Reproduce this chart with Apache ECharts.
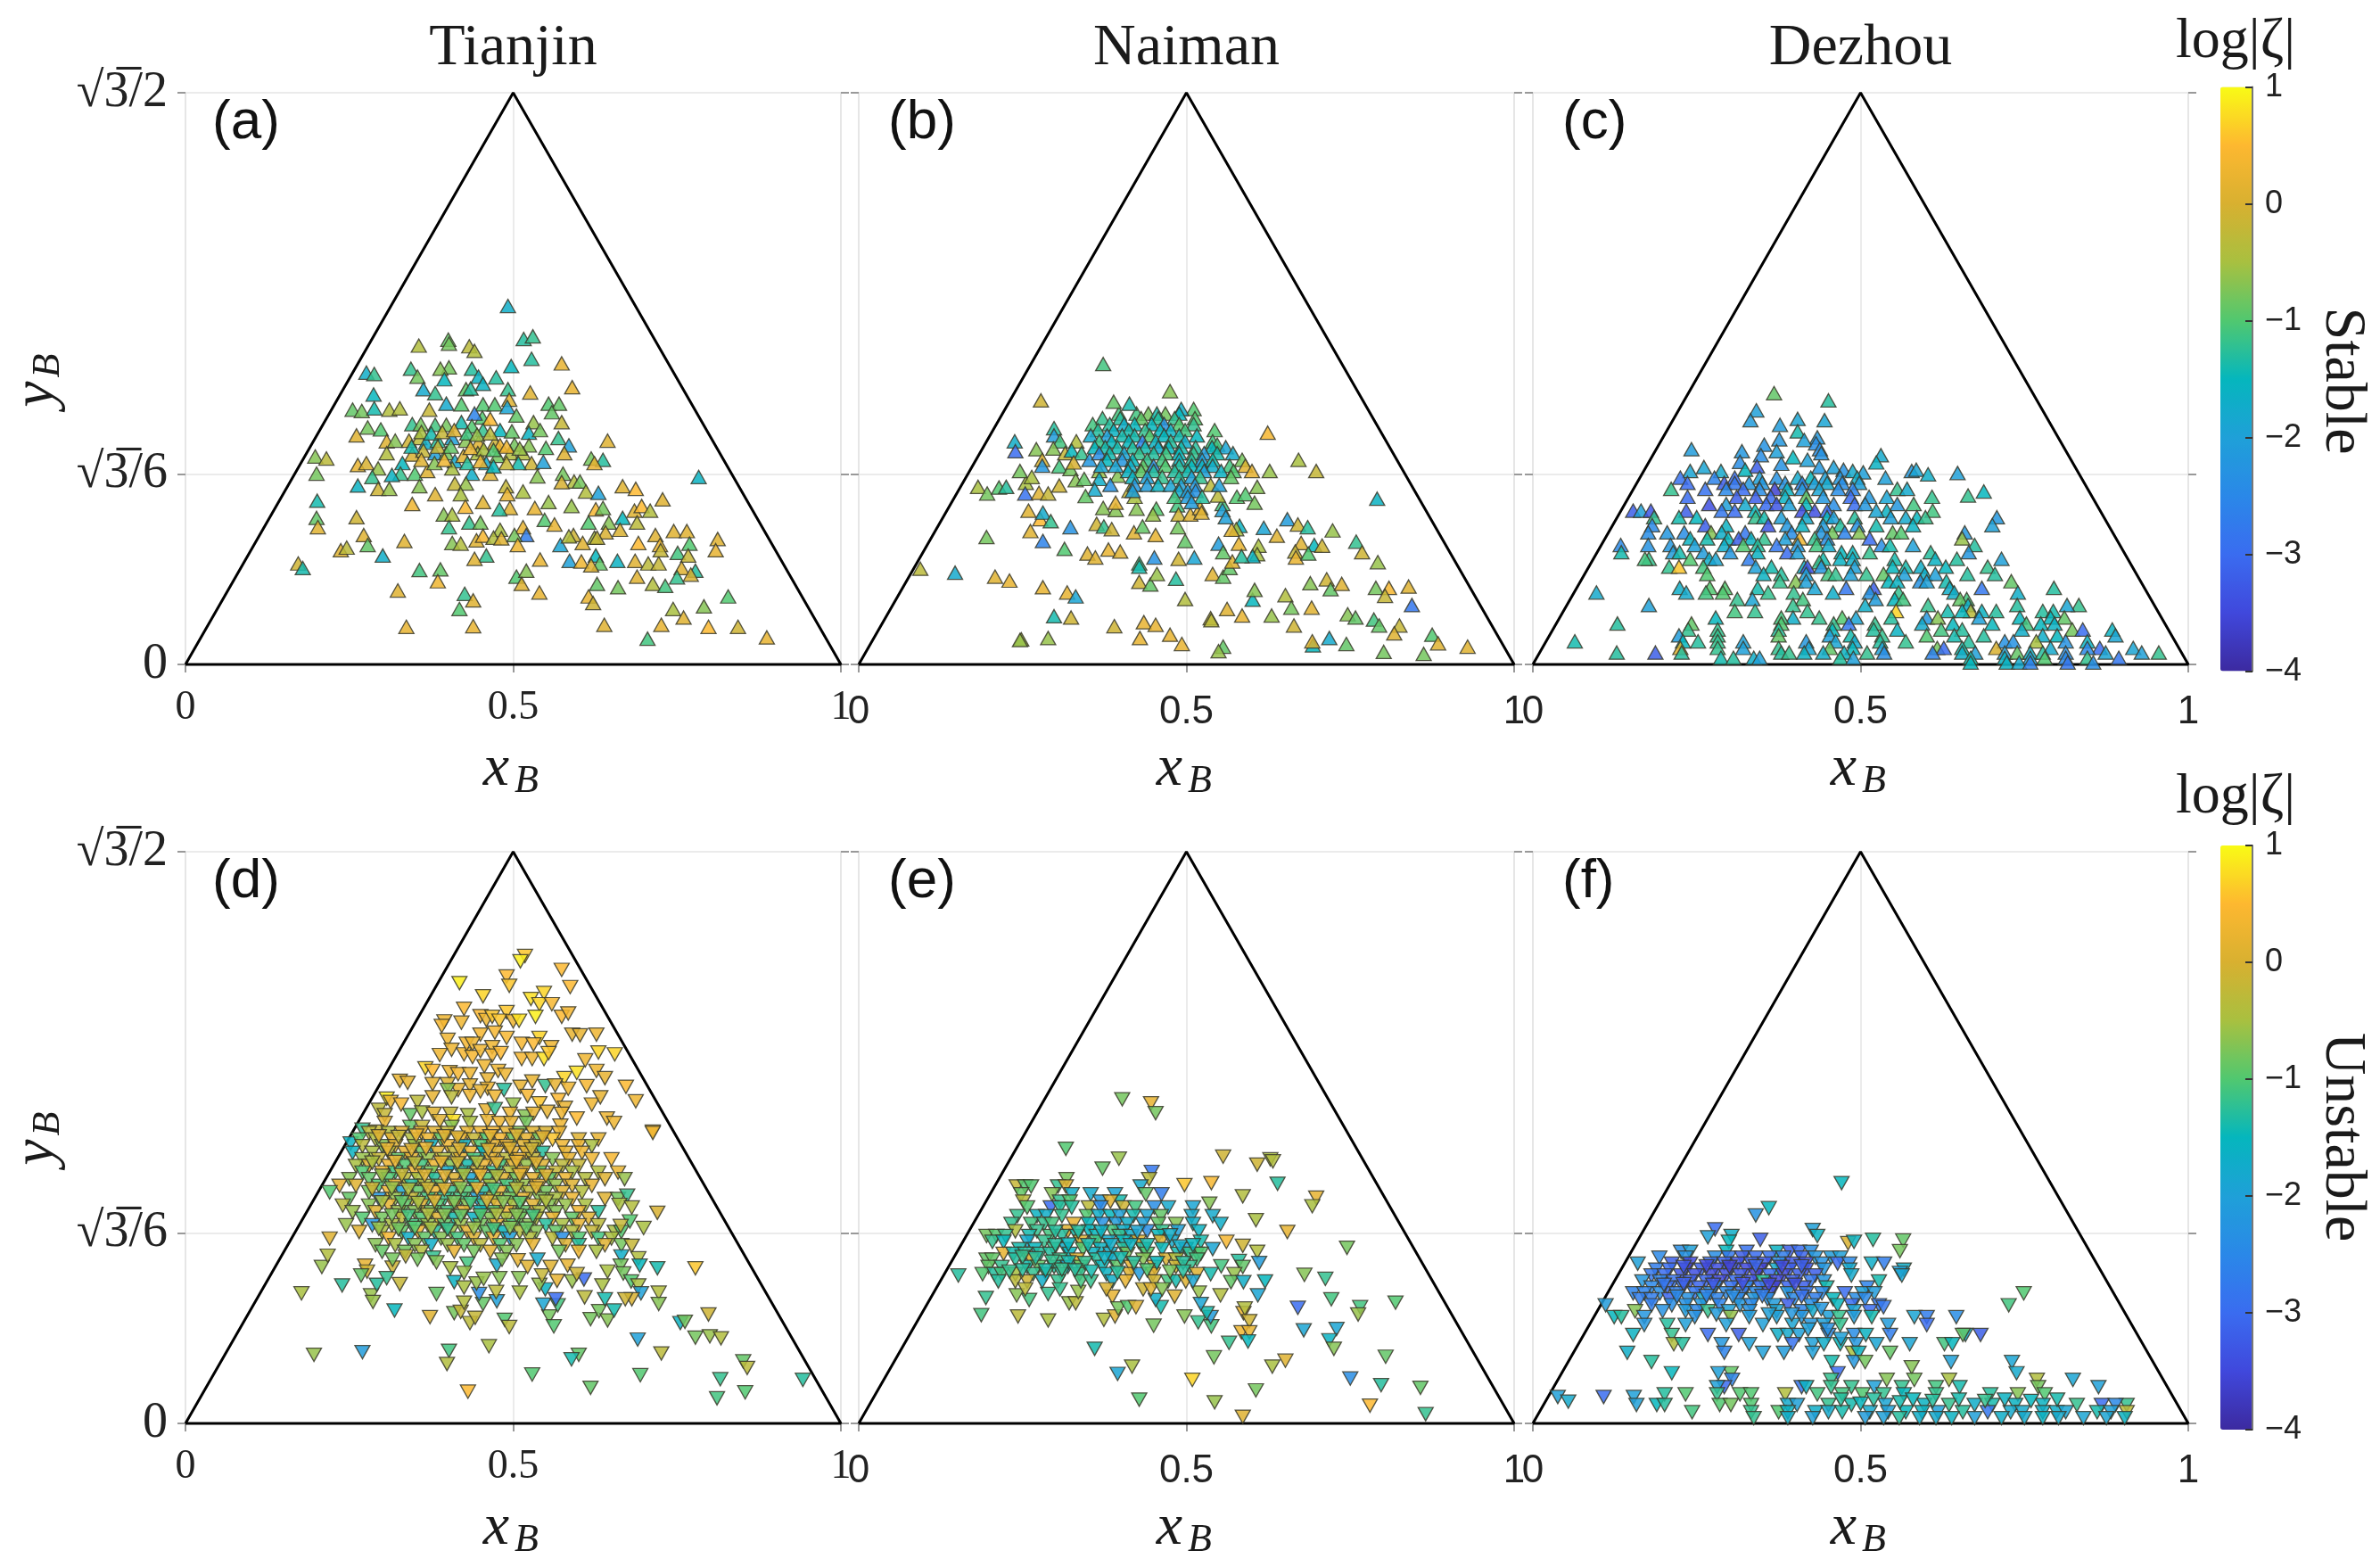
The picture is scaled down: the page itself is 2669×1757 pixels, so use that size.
<!DOCTYPE html>
<html><head><meta charset="utf-8"><style>html,body{margin:0;background:#fff}#c{width:2669px;height:1757px;filter:blur(0.5px)}</style>
<script src="https://cdn.jsdelivr.net/npm/echarts@6/dist/echarts.min.js"></script></head><body><div id="c"></div><script>
const titles=['Tianjin','Naiman','Dezhou'];
const panelLetters=['(a)','(b)','(c)','(d)','(e)','(f)'];
const xTicks=['0','0.5','1'];
const yTickLabels=['0','√3̅/6','√3̅/2'];
const cbarTicks=[-4,-3,-2,-1,0,1];
const parula=['#3c2aa0','#4048dc','#3a6cf0','#2a88e8','#1fa0d8','#05b6bd','#50c870','#a8c040','#d8b030','#fdb830','#f9fb15'];
// flat triples: xB, yB, log|zeta|
const ptsA=[.492,.543,-1.7,.516,.493,-1.3,.53,.497,-1.2,.528,.463,-1.3,.356,.483,-.4,.401,.492,-.9,.402,.486,-.8,.433,.482,-.3,.441,.475,-.4,.574,.456,.2,.59,.42,.2,.526,.412,.1,.497,.452,-1.5,.474,.435,-1.3,.492,.417,-1.2,.494,.401,.1,.437,.448,-1.3,.447,.436,-1.6,.402,.45,-.8,.389,.448,-.7,.344,.448,-1.2,.354,.436,-.8,.276,.442,-1.7,.288,.44,-1.2,.287,.409,-1.5,.395,.432,-1.5,.363,.417,-1.8,.381,.411,-1.2,.428,.417,-.9,.435,.418,-1.3,.454,.425,-1.6,.255,.386,-.9,.269,.384,-.8,.288,.388,-1.4,.311,.386,-.4,.327,.388,-.4,.372,.386,-.2,.398,.395,-1.8,.421,.394,-1,.454,.394,-1,.472,.394,-1,.491,.39,-1.9,.554,.395,-1,.57,.395,-.9,.559,.382,-.9,.505,.377,-.9,.531,.367,-.6,.574,.367,-.2,.453,.374,-1,.465,.372,.5,.441,.38,-2.6,.261,.347,.1,.278,.359,-.8,.298,.356,-1,.346,.364,-1.2,.359,.364,-.8,.381,.363,-1.1,.398,.363,-.8,.421,.367,-1.4,.437,.361,-1,.454,.355,-1.2,.48,.355,-1.5,.498,.353,-.9,.524,.351,-1.6,.541,.355,-.8,.307,.338,.1,.32,.339,-.7,.341,.339,-.1,.357,.343,-.3,.367,.336,-1.7,.385,.339,-1.3,.407,.343,-2,.428,.339,-.7,.447,.336,.1,.472,.336,-.1,.48,.332,.3,.502,.333,-.8,.524,.332,-.7,.569,.343,-1.2,.585,.332,-2,.644,.339,.1,.198,.315,-.7,.215,.312,-.3,.307,.32,-.4,.346,.318,0,.363,.324,-.2,.381,.32,-2,.398,.32,-.8,.411,.308,-1.8,.424,.316,.1,.446,.32,-.5,.459,.305,-1.8,.476,.316,-.8,.496,.32,-.4,.515,.32,-.4,.528,.305,-.1,.55,.328,-1,.578,.32,.1,.619,.312,-.8,.637,.31,-1.3,.624,.305,.2,.546,.307,-2,.508,.305,-1.4,.263,.302,.2,.276,.305,0,.2,.289,-.8,.294,.297,-.6,.331,.305,-1.5,.328,.289,-1.2,.315,.287,-1.6,.35,.289,-1,.369,.293,.1,.407,.297,-.5,.437,.289,-1.7,.465,.289,.1,.576,.289,-.8,.593,.277,-.4,.602,.277,-.8,.783,.284,-1.6,.263,.271,-1.6,.285,.284,-1.2,.294,.266,-.1,.311,.266,-.6,.357,.27,-.7,.411,.274,-.2,.428,.274,-.6,.489,.27,-.2,.515,.262,-.5,.537,.285,-.7,.574,.276,0,.611,.262,-.4,.63,.26,-2,.667,.27,.1,.687,.266,.5,.728,.25,.1,.201,.248,-1.4,.381,.258,.1,.42,.258,-.5,.454,.246,.1,.491,.258,.2,.554,.246,-.6,.346,.243,.3,.427,.239,.4,.495,.237,.1,.533,.237,.2,.589,.24,-.6,.626,.235,.4,.637,.237,-.8,.685,.233,.1,.696,.24,.5,.709,.233,-.4,.2,.222,-.9,.261,.223,-.1,.394,.227,-.7,.407,.227,-.5,.433,.215,-1.2,.45,.215,-.8,.479,.235,-1.3,.548,.219,-1,.563,.212,.2,.667,.222,-1.5,.615,.215,-1,.646,.215,-.7,.689,.215,-.3,.202,.208,.1,.402,.208,-1.2,.515,.208,.2,.52,.196,-2.7,.48,.204,-.5,.641,.2,0,.663,.204,0,.624,.192,-.5,.592,.196,-.1,.272,.196,.1,.444,.188,.1,.454,.195,.4,.47,.192,-.4,.482,.191,.1,.502,.196,-.8,.572,.181,-1.9,.585,.194,-.4,.606,.184,.1,.628,.192,-.2,.745,.202,.1,.765,.202,.1,.812,.19,.1,.717,.196,.1,.334,.187,.1,.278,.181,-.9,.407,.184,-.7,.42,.183,-.4,.507,.181,.3,.691,.184,.5,.724,.181,.3,.769,.183,-1,.809,.173,.2,.237,.173,.1,.246,.177,-.3,.301,.165,-1.7,.459,.165,-1.2,.441,.16,.1,.541,.159,.2,.586,.157,-2,.604,.156,.3,.626,.165,-1.5,.632,.153,-.9,.619,.15,.1,.659,.157,-1.6,.686,.157,.1,.706,.153,-.3,.722,.153,-.2,.725,.173,-.2,.751,.169,-1.1,.767,.165,-.2,.172,.153,-.1,.179,.146,-1.4,.357,.143,-1.1,.389,.144,-.9,.505,.133,-1,.52,.142,-.7,.757,.146,.1,.778,.142,-1.3,.75,.132,-1.2,.771,.136,0,.689,.133,.1,.713,.122,-.4,.732,.119,-1.1,.628,.122,-.9,.66,.117,-.8,.385,.126,.3,.513,.122,.1,.324,.112,.1,.54,.109,.2,.426,.107,-1.2,.439,.097,.1,.615,.103,.2,.622,.093,-.1,.828,.103,-1,.791,.088,-.7,.744,.084,-.5,.418,.084,-1,.76,.071,.1,.337,.057,.2,.439,.058,.2,.639,.06,.1,.726,.06,.2,.798,.057,.5,.843,.057,-.1,.887,.041,.2,.705,.039,-1.1,.36,.352,-.5,.375,.35,-1.4,.392,.352,-.2,.41,.355,.1,.43,.35,-1.1,.445,.348,-.6,.465,.35,-.3,.385,.33,-.2,.405,.33,-.9,.435,.328,.2,.455,.326,-.5,.47,.325,-1,.49,.33,.3,.51,.327,-.6,.345,.33,-1.4,.36,.31,.1,.38,.305,-.7,.395,.31,.3,.43,.305,-1.3,.45,.308,.2,.47,.3,-1.5,.49,.305,-.2];
const ptsB=[.373,.455,-1.1,.475,.414,-.7,.278,.4,-.1,.624,.351,.4,.671,.31,-.5,.698,.293,-.2,.791,.251,-1.6,.094,.145,-.3,.147,.139,-1.8,.208,.133,.1,.23,.127,.2,.281,.117,.2,.318,.109,.2,.331,.103,-1.9,.298,.073,-1.4,.324,.071,-.1,.248,.038,-.5,.246,.037,-.6,.289,.04,-.6,.39,.058,-.1,.435,.064,.2,.453,.06,.2,.429,.04,.2,.475,.045,.2,.493,.031,.2,.428,.125,-.1,.445,.121,-.9,.455,.137,-.6,.484,.13,-1.3,.428,.153,-1.2,.428,.148,-1.4,.451,.162,-2.3,.488,.16,-.1,.512,.162,-1.9,.54,.137,.1,.556,.133,-.9,.566,.146,-.9,.57,.156,.1,.498,.099,-.4,.537,.07,-.2,.538,.067,-.3,.562,.084,.1,.585,.074,.2,.63,.074,-.6,.601,.098,-1.5,.604,.113,-.7,.651,.105,-.4,.66,.086,-.8,.691,.086,.1,.689,.123,-.7,.714,.129,-.1,.72,.114,-.9,.737,.122,.1,.789,.116,-.8,.809,.116,.4,.839,.118,.1,.803,.104,-.2,.844,.09,-2.8,.746,.076,-.7,.758,.071,-.9,.786,.068,-1.1,.794,.059,-.9,.825,.059,-.2,.817,.047,.1,.875,.045,-1,.884,.032,.1,.929,.027,.1,.862,.016,-.8,.801,.019,-.8,.744,.031,-.9,.718,.04,-1.8,.693,.029,-1.5,.692,.035,0,.664,.059,-.1,.556,.027,-.9,.549,.02,-.6,.654,.22,-2.1,.67,.212,-.1,.685,.208,-1.3,.723,.203,-.6,.618,.207,-1.9,.638,.195,.1,.581,.21,-1.6,.576,.205,-.5,.569,.204,.1,.549,.183,-2.1,.58,.183,.2,.61,.18,-.5,.608,.167,-.5,.601,.164,-1.6,.556,.17,-.9,.584,.164,-1.3,.675,.184,.1,.695,.181,-1.5,.707,.18,-.1,.666,.171,-.2,.667,.162,.2,.686,.168,-1,.759,.186,-1.2,.768,.17,-.1,.792,.155,-.6,.195,.193,-.8,.262,.202,.1,.281,.187,-2.6,.314,.175,-1,.323,.208,-2.3,.277,.22,.5,.281,.23,-1.8,.293,.217,-1.2,.259,.233,.1,.363,.213,-.1,.374,.209,-1.2,.386,.205,-.1,.42,.2,.1,.433,.209,-.9,.453,.196,.2,.487,.208,-.8,.498,.187,-.9,.349,.168,.1,.361,.162,.1,.381,.174,.2,.399,.171,.1,.373,.237,-.7,.392,.234,-.7,.392,.245,.2,.424,.236,-.7,.454,.236,-1,.449,.227,-.6,.486,.241,-1.1,.488,.227,-.1,.506,.227,.1,.521,.237,.2,.523,.23,.1,.555,.243,-1.1,.555,.234,-2,.56,.223,-2,.548,.256,-.3,.577,.254,-1,.59,.258,-1,.604,.245,-.8,.608,.269,-.7,.182,.269,-.5,.196,.259,-.8,.214,.268,-1,.225,.269,-1.3,.255,.275,-.5,.254,.259,-2.9,.275,.26,.1,.289,.259,-.2,.306,.271,-.1,.246,.293,-.8,.264,.284,-.5,.238,.338,-1.7,.239,.323,-3,.271,.326,-.7,.28,.31,0,.28,.301,-2.2,.298,.358,-1.3,.298,.347,-2.1,.307,.338,-1.1,.297,.327,-.7,.332,.338,-.4,.315,.32,-.2,.325,.324,-1.5,.34,.32,-1.2,.306,.3,-1.1,.323,.296,-.8,.328,.306,0,.352,.31,-2.2,.367,.293,-.6,.331,.279,-.7,.344,.281,-.9,.367,.281,-1.7,.395,.286,-.7,.384,.272,-2.3,.36,.265,-1.8,.346,.255,-.9,.413,.263,-.2,.421,.254,-.5,
.511,.387,-1,.492,.387,-1.7,.397,.38,-1.1,.424,.38,-1.1,.442,.38,-.8,.468,.38,-.8,.489,.38,-1.5,.455,.38,-1.4,.413,.395,-1.4,.389,.398,-.9,.372,.373,-1.2,.399,.373,-1.3,.431,.373,-.9,.457,.373,-1.3,.482,.373,-1.2,.513,.373,-1,.357,.364,-1.1,.383,.364,-1.3,.405,.364,-1.7,.421,.364,-1.5,.447,.364,-1.5,.466,.364,-2.3,.489,.364,-1,.511,.364,-1.2,.365,.355,-1.3,.389,.355,-1.6,.412,.355,-1.4,.437,.355,-1.2,.46,.355,-1.5,.476,.355,-1.6,.498,.355,-1.1,.543,.355,-1,.354,.347,-1.8,.379,.347,-2,.402,.347,-1.4,.421,.347,-1.4,.444,.347,-1,.466,.347,-1.5,.489,.347,-1.4,.516,.347,-1.5,.367,.338,-1.2,.386,.338,-1.5,.412,.338,-1.5,.433,.338,-2.6,.453,.338,-1.6,.476,.338,-1.3,.498,.338,-1.7,.54,.338,-1.1,.547,.333,-1.1,.36,.329,-1.5,.376,.329,-1.4,.395,.329,-1.4,.418,.329,-1.3,.437,.329,-1.4,.457,.329,-1.7,.473,.329,-1.5,.492,.329,-1.4,.514,.329,-1.3,.539,.329,-1.5,.56,.329,-1.9,.367,.32,-2.4,.383,.32,-1.4,.405,.32,-1.9,.428,.32,-1.2,.45,.32,-1.3,.469,.32,-1.1,.489,.32,-1.5,.511,.32,-1.2,.527,.32,-2.1,.547,.32,-1.4,.571,.32,-1.8,.379,.31,-1.5,.402,.31,-2.2,.418,.31,-1.5,.44,.31,-1.2,.463,.31,-1.1,.489,.31,-1.6,.508,.31,-1.3,.524,.31,-2,.54,.31,-1.4,.585,.31,-.8,.37,.301,-1.9,.392,.301,-1.9,.415,.301,-1.7,.434,.301,-.9,.45,.301,-2.4,.468,.301,-1,.489,.301,-1.3,.508,.301,-1.5,.524,.301,-1.6,.54,.301,-1.7,.566,.301,-1.1,.59,.301,.1,.411,.293,-1.6,.431,.293,-.9,.45,.293,-1.3,.482,.293,-1.3,.502,.293,-1.4,.527,.293,-2,.553,.293,-1.6,.572,.293,-1,.6,.293,.2,.627,.293,-.6,.418,.284,-1.6,.44,.284,-2,.463,.284,-1.2,.489,.284,-1.3,.508,.284,-2,.521,.284,-1.2,.568,.284,-.9,.421,.272,-2.2,.44,.272,-2.1,.457,.272,-1.6,.476,.272,-1.9,.492,.272,-2,.513,.272,-2.2,.537,.272,-.3,.55,.272,-2,.489,.263,-1.8,.502,.263,-2.1,.418,.263,-2,.514,.263,-2.3,.482,.254,-1.1,.502,.254,-2.1,.524,.254,-1.3,.508,.246,-2.1];
const ptsC=[.368,.411,-.9,.451,.4,-1.3,.341,.385,-2,.332,.37,-2.1,.377,.363,-2.1,.404,.372,-1.9,.445,.37,-1.9,.404,.353,-1.4,.434,.344,-2.2,.414,.34,-2,.376,.341,-2.2,.353,.333,-2.3,.432,.335,-2.4,.438,.326,-2.4,.44,.32,-2.3,.242,.326,-2.1,.319,.323,-2.2,.372,.323,-2,.348,.317,-2.4,.397,.314,-1.5,.419,.31,-2,.531,.317,-1.8,.524,.306,-1.6,.316,.307,-2.4,.379,.304,-2.3,.342,.3,-3.2,.261,.299,-1.9,.24,.293,-1.9,.287,.293,-1.8,.324,.295,-1.5,.437,.299,-2.2,.459,.299,-2,.474,.295,-2.3,.578,.293,-2.2,.585,.295,-1.9,.603,.288,-1.7,.648,.29,-2,.504,.291,-2,.488,.293,-1.8,
.225,.283,-2.9,.277,.283,-2.6,.308,.283,-3,.346,.283,-2,.372,.283,-2.3,.404,.283,-1.8,.424,.283,-1.5,.446,.283,-2,.469,.283,-2.2,.495,.283,-1.7,.538,.283,-2,.236,.275,-3,.292,.275,-3.2,.308,.275,-2.8,.33,.275,-2.2,.35,.275,-2.2,.385,.275,-2.3,.411,.275,-2.6,.43,.275,-2,.449,.275,-1.8,.472,.275,-2.4,.498,.275,-2,.211,.266,-1.2,.263,.266,-2.9,.295,.266,-2.5,.321,.266,-3,.346,.266,-2.4,.369,.266,-3.6,.388,.266,-1.6,.411,.266,-2.2,.437,.266,-1.9,.466,.266,-2.4,.488,.266,-2.6,.556,.266,-1.2,.571,.266,-1.8,.664,.256,-1.2,.688,.262,-1.5,.236,.254,-3,.311,.254,-3.2,.34,.254,-3.2,.363,.254,-3,.385,.254,-1.6,.417,.254,-.9,.443,.254,-2.2,.485,.254,-3,.513,.254,-2.2,.54,.254,-1.9,.609,.254,-1.2,.269,.243,-3.4,.295,.243,-2,.324,.243,-1.8,.356,.243,-3,.372,.243,-3.3,.391,.243,-2,.417,.243,-1.5,.459,.243,-2.4,.491,.243,-3,.507,.243,-2.2,.556,.243,-2.2,.581,.243,-1.1,.153,.233,-3.2,.165,.233,-2,.18,.233,-3.3,.234,.233,-3.2,.288,.233,-2.8,.308,.233,-3,.339,.233,-1.5,.411,.233,-3.4,.43,.233,-3.4,.449,.233,-3,.54,.233,-1.6,.524,.233,-1.9,.61,.233,-1.1,.185,.223,-1.2,.223,.223,-1.4,.25,.223,-1.5,.34,.223,-1.2,.353,.223,-1.4,.379,.223,-2,.417,.223,-1.8,.449,.223,-1.5,.459,.223,-2,.491,.223,-1.3,.546,.223,-2,.569,.223,-1.8,.586,.223,-1.5,.599,.223,-1.2,.708,.223,-2.2,.182,.211,-2.5,.263,.211,-3.2,.295,.211,-1.6,.359,.211,-3.3,.388,.211,-2.2,.411,.211,-1.6,.443,.211,-2.1,.469,.211,-1.3,.495,.211,-2.3,.524,.211,-1.4,.58,.211,-1.6,.701,.211,-2,.176,.2,-2.4,.205,.2,-2.2,.231,.2,-2.4,.272,.2,-.7,.288,.2,-1.7,.324,.2,-2.8,.395,.2,-2.4,.44,.2,-2.2,.457,.2,-.8,.476,.2,-2.6,.498,.2,-.7,.549,.2,-.9,.562,.2,-1,.659,.2,-2.2,.24,.191,-1.6,.266,.191,-1.4,.298,.191,-1.5,.314,.191,-3.2,.333,.191,-1.6,.353,.191,-1.2,.385,.191,-2,.407,.191,.3,.43,.191,-1.2,.449,.191,-2.4,.514,.191,-3,.655,.191,-.6,.134,.181,-2.5,.176,.181,-2.3,.21,.181,-2.2,.247,.181,-2,.292,.181,-1.7,.321,.181,-1,.343,.181,-1.3,.372,.181,-2.8,.404,.181,-2.2,.433,.181,-1.1,.451,.181,-1.8,.532,.181,-2.4,.545,.181,-1.4,.58,.181,-2,.674,.181,-1.3,.135,.17,-1.4,.214,.17,-2.1,.224,.17,-1.4,.26,.17,-2.1,.301,.17,-2.2,.343,.17,-1.6,.388,.17,-3,.404,.17,-2,.471,.17,-1.5,.488,.17,-1.5,.514,.17,-1.2,.607,.17,-1.3,.665,.17,-2.2,.177,.16,-1.2,.171,.16,-1.1,.24,.16,-1,.269,.16,-1.7,.279,.16,-1.9,.33,.16,-2.7,.443,.16,-1.4,.437,.155,-1.2,.469,.16,-1.6,.488,.16,-1.7,.552,.16,-1.4,.614,.16,-1.6,.647,.16,-1.3,.715,.16,-2,.208,.148,-1.2,.223,.148,.6,.26,.148,-1.1,.34,.148,-2,.364,.148,-1.4,.414,.148,-1.7,.419,.148,-3.3,.44,.148,-2.2,.491,.148,-2,.549,.148,-1.5,.569,.148,-1.4,.592,.148,-1.7,.63,.148,-1.5,.694,.148,-1.2,.266,.137,-1,.352,.137,-1.6,.379,.137,-1.3,.417,.137,-2,.451,.137,-1.1,.462,.137,-1.2,.485,.137,-2,.509,.137,-1.2,.535,.137,-.9,.567,.137,-2,.598,.137,-1.7,.614,.137,-2,.663,.137,-1.3,.705,.137,-1.3,.377,.126,-1.2,.401,.126,-.7,.417,.126,-2,.543,.126,-1.5,.556,.126,-1.6,.591,.126,-2.3,.601,.126,-2,.631,.126,-1.4,.73,.126,-.9,.224,.116,-1.7,.27,.116,-1,.293,.116,-1,.343,.116,-1.4,.43,.116,-1.9,.478,.116,-2.8,.52,.116,-3.2,.685,.116,-2.8,.795,.116,-1.3,.636,.116,-1.7,.097,.109,-1.8,.234,.109,-1.8,.264,.109,-1.1,.29,.109,-1,.359,.109,-1.2,.398,.109,-1.2,.458,.109,-1.7,.514,.109,-2.3,.558,.109,-1.2,.643,.109,-1.7,.74,.109,-1.7,.312,.099,-1.2,.335,.099,-1.9,.412,.099,-1.1,.523,.099,-2.1,.552,.099,-1.5,.565,.099,-1.1,.662,.099,-1.1,.652,.099,-.9,.177,.09,-2,.397,.09,-1.2,.507,.09,-1.7,.603,.09,-1.2,.664,.09,-1.7,.739,.09,-1.3,.833,.09,-1.2,.815,.09,-1.9,.308,.081,-1.1,.339,.081,-1.2,.419,.081,-1.2,.554,.081,.7,.633,.081,-1.4,.668,.081,-.3,.685,.081,-1.6,.778,.081,-1.3,.794,.081,-1.4,.707,.081,-1.3,.655,.081,-1.5,.279,.071,-1.5,.397,.071,-1.7,.437,.071,-1.2,.472,.071,-1,.493,.071,-1.9,.547,.071,-1.3,.601,.071,-2.2,.618,.071,-.7,.681,.071,-2,.743,.071,-1.5,.811,.071,-.9,.79,.071,-1.5,.379,.071,-1.1,.129,.062,-1.3,.242,.062,-.9,.379,.062,-1,.459,.062,-1.2,.482,.062,-2.8,.522,.062,-1.2,.594,.062,-1.8,.641,.062,-1.5,.701,.062,-1.5,.753,.062,-1.1,.775,.062,-1.5,.796,.062,-1.6,.237,.053,-1.2,.282,.053,-1.2,.375,.053,-1.3,.457,.053,-1.5,.52,.053,-1.3,.556,.053,-1.6,.623,.053,-1.1,.655,.053,-1.3,.746,.053,-1.7,.823,.053,-.8,.884,.053,-1.6,.839,.053,-3,.223,.044,-2.1,.282,.044,-1.2,.375,.044,-.9,.453,.044,-2,.485,.044,-1.4,.533,.044,-1.2,.601,.044,-1,.643,.044,-1.4,.688,.044,-1.3,.778,.044,-1.7,.8,.044,-1.5,.889,.044,-1.9,.064,.035,-1.4,.229,.035,-1.5,.252,.035,-1.3,.321,.035,-2,.282,.035,-1.2,.417,.035,-2.2,.462,.035,-1.9,.491,.035,-1.8,.53,.035,-1.3,.569,.035,-1.2,.665,.035,-1.3,.72,.035,-2.3,.733,.035,-2.3,.813,.035,-2.3,.846,.035,-1.6,.768,.035,-.5,.225,.025,.1,.282,.025,-1.2,.321,.025,-2,.375,.025,-1.2,.421,.025,-1.9,.453,.025,-.9,.488,.025,-1.5,.533,.025,-2,.617,.025,-.8,.627,.025,-3,.655,.025,-1.4,.707,.025,0,.79,.025,-1.8,.865,.025,-3,.846,.025,-2.5,.916,.025,-1.9,.128,.018,-1.3,.187,.018,-3.2,.227,.018,-1.3,.379,.018,-1.3,.391,.018,-1.2,.414,.018,-1.6,.443,.018,-1.7,.475,.018,-1.6,.51,.018,-1.2,.536,.018,-2.4,.61,.018,-2.6,.655,.018,-1.7,.675,.018,-2,.72,.018,-2,.739,.018,-.9,.759,.018,-1.7,.778,.018,-1.3,.813,.018,-2.4,.874,.018,-1.9,.929,.018,-2,.955,.018,-1.2,.287,.01,-1.4,.306,.01,-1.3,.337,.01,-1.7,.346,.01,-2,.469,.01,-1.3,.489,.01,-2,.668,.01,-1.4,.72,.01,-1.6,.759,.01,-2,.781,.01,-1,.813,.01,-2.5,.846,.01,-1.2,.894,.01,-2.8,.668,.003,-1.5,.723,.003,-1.6,.742,.003,-1.8,.759,.003,-2.6,.816,.003,-2.8,.855,.003,-2.4];
const ptsD=[.518,.708,.6,.511,.7,.9,.574,.687,.5,.49,.677,.5,.494,.663,.6,.418,.667,.9,.587,.661,.5,.454,.647,.7,.547,.652,.7,.527,.643,.8,.54,.635,.7,.559,.635,.4,.425,.628,.5,.49,.623,.6,.534,.616,.9,.574,.616,.5,.584,.621,.4,.395,.609,.3,.391,.602,.4,.421,.607,.3,.45,.617,.5,.459,.611,.3,.468,.616,.6,.479,.61,.6,.5,.609,.3,.509,.61,.8,.59,.589,.2,.602,.588,.2,.627,.589,.3,.4,.581,.3,.45,.589,.4,.472,.592,.4,.49,.584,.4,.54,.584,.7,.406,.566,.3,.388,.558,.3,.425,.559,.4,.429,.575,.4,.438,.575,.3,.438,.555,.4,.45,.564,.3,.468,.57,.3,.468,.557,.4,.481,.561,.5,.513,.575,.4,.531,.574,.5,.513,.552,.4,.529,.552,.3,.547,.552,.8,.558,.57,.3,.554,.561,.6,.61,.55,.3,.63,.562,.7,.655,.559,.7,.366,.538,.7,.377,.534,.5,.403,.532,.3,.416,.529,.4,.434,.529,.3,.456,.541,.3,.477,.534,.3,.488,.528,.3,.597,.531,.8,.578,.523,.7,.627,.534,.3,.64,.523,.2,.327,.519,.2,.339,.516,.2,.377,.514,.2,.4,.514,.1,.416,.505,.2,.4,.505,-.7,.434,.512,.2,.461,.521,.2,.461,.507,.3,.486,.505,-1.3,.511,.51,.2,.529,.518,.2,.549,.511,-1.2,.564,.512,.2,.584,.507,.3,.612,.511,.4,.672,.51,.5,.307,.492,.9,.313,.487,.2,.329,.483,.4,.354,.487,-.3,.377,.494,.2,.406,.494,-.3,.434,.496,.3,.45,.503,.2,.472,.495,.3,.522,.496,.4,.54,.485,.6,.569,.49,.5,.62,.483,.3,.633,.494,.2,.687,.488,.3,.579,.478,.2,.295,.475,-.3,.343,.467,-.9,.304,.467,-.2,.361,.471,-.5,.379,.469,.1,.404,.469,-.2,.431,.467,-.5,.459,.474,.2,.472,.476,-1.2,.5,.483,-.6,.495,.469,.3,.518,.465,-.7,.531,.469,.2,.552,.472,.2,.574,.469,.3,.597,.462,.5,.643,.462,.3,.654,.455,.3,.304,.455,.2,.343,.449,-.9,.361,.449,-.2,.388,.458,.1,.409,.458,.8,.406,.449,-.7,.434,.455,-.5,.461,.458,.2,.479,.455,.3,.497,.455,.2,.52,.455,-.8,.572,.451,.3,.713,.442,.4,.27,.445,-1.2,.291,.442,-.2,.252,.424,-1.6,
.28,.44,-.3,.31,.44,-.4,.33,.44,.1,.36,.44,.2,.38,.44,.1,.4,.44,-.2,.43,.44,.2,.45,.44,.3,.47,.44,.4,.49,.44,.2,.51,.44,-.7,.53,.44,.1,.55,.44,0,.57,.44,.3,.265,.43,-1,.29,.43,-.4,.315,.43,.2,.345,.43,-.4,.37,.43,.3,.39,.43,-.9,.42,.43,.3,.44,.43,-.2,.46,.43,-1,.48,.43,.4,.5,.43,-.8,.52,.43,.2,.54,.43,-.8,.56,.43,.6,.6,.43,.1,.63,.43,.2,.27,.42,-.3,.3,.42,-.7,.32,.42,.1,.35,.42,-.6,.375,.42,-1.6,.4,.42,.3,.425,.42,-1.6,.45,.42,-1,.47,.42,.2,.49,.42,.3,.515,.42,.1,.535,.42,-.2,.575,.42,.3,.6,.42,.3,.62,.42,-.5,.255,.41,-1.6,.285,.41,-.5,.31,.41,-.3,.335,.41,.2,.36,.41,-.8,.385,.41,.1,.41,.41,-.2,.435,.41,.3,.455,.41,-1.5,.475,.41,.1,.5,.41,.2,.52,.41,.1,.545,.41,-1.3,.58,.41,.2,.605,.41,.3,.27,.4,-.6,.295,.4,-.2,.325,.4,-.9,.345,.4,.2,.37,.4,-.6,.395,.4,-.4,.42,.4,.2,.44,.4,-1.1,.465,.4,.2,.49,.4,-.3,.51,.4,.3,.53,.4,-.2,.56,.4,-.7,.585,.4,.2,.62,.4,.3,.65,.4,.4,.26,.39,-.5,.28,.39,.1,.31,.39,.3,.335,.39,-1,.36,.39,-1.1,.38,.39,.3,.405,.39,-.7,.43,.39,-1.4,.455,.39,.3,.48,.39,-1.1,.5,.39,.1,.52,.39,-.6,.545,.39,.1,.575,.39,-.3,.6,.39,-.2,.27,.38,-1,.3,.38,.2,.32,.38,-1.1,.35,.38,.3,.375,.38,-.8,.4,.38,-1.8,.42,.38,-1.3,.445,.38,-.1,.47,.38,-1.2,.495,.38,-.4,.515,.38,.3,.54,.38,-.9,.565,.38,-.2,.59,.38,-.5,.63,.38,-.4,.66,.38,.2,.25,.37,-.7,.28,.37,-.9,.31,.37,-1,.335,.37,-.3,.355,.37,-.5,.38,.37,-1.3,.41,.37,.1,.435,.37,-1.9,.46,.37,-1,.485,.37,.1,.505,.37,-.8,.53,.37,.2,.555,.37,-.9,.58,.37,.3,.61,.37,-.4,.64,.37,.1,.67,.37,-.6,.235,.36,.2,.26,.36,.1,.295,.36,-1,.32,.36,.2,.345,.36,-1.3,.365,.36,-.4,.39,.36,-.8,.415,.36,.3,.44,.36,-1.3,.465,.36,-.5,.49,.36,-1.1,.515,.36,-.6,.54,.36,.2,.565,.36,-.6,.59,.36,.1,.62,.36,.2,.22,.35,-1,.28,.35,-.8,.31,.35,.3,.33,.35,-1.9,.355,.35,-.9,.38,.35,.3,.405,.35,-1.2,.43,.35,-1,.455,.35,-1.3,.48,.35,.2,.5,.35,-1,.525,.35,-.3,.55,.35,-.8,.575,.35,.1,.605,.35,-.4,.25,.34,-.9,.295,.34,-2.2,.32,.34,-.6,.345,.34,-.2,.37,.34,-1.1,.395,.34,-1.2,.42,.34,-1.1,.445,.34,-2,.47,.34,-.5,.495,.34,-.8,.515,.34,.2,.54,.34,-.7,.565,.34,-.5,.59,.34,.3,.64,.34,.1,.66,.34,-.8,.24,.33,-.3,.28,.33,-.7,.31,.33,.2,.335,.33,-.9,.36,.33,.1,.385,.33,-1,.41,.33,.3,.43,.33,-.7,.455,.33,-1.2,.475,.33,.1,.5,.33,-.5,.53,.33,.1,.555,.33,-.7,.58,.33,-.6,.61,.33,-.5,.255,.32,-.6,.29,.32,.1,.325,.32,-.6,.35,.32,-.7,.375,.32,-.8,.4,.32,-1.1,.425,.32,.2,.45,.32,-1.5,.47,.32,-1,.49,.32,.2,.515,.32,-.9,.54,.32,-.4,.565,.32,-.7,.6,.32,.3,.63,.32,-1.3,.27,.31,-1,.3,.31,-.8,.33,.31,-.3,.36,.31,-1,.385,.31,.1,.41,.31,-1.4,.44,.31,-1.6,.465,.31,-.7,.49,.31,-.5,.51,.31,-.8,.535,.31,-.4,.56,.31,.3,.59,.31,-.9,.615,.31,.1,.245,.3,-.6,.285,.3,-2.2,.315,.3,-.5,.345,.3,-1.1,.37,.3,-.6,.395,.3,-.9,.42,.3,-.6,.45,.3,-.8,.475,.3,.2,.5,.3,-1,.525,.3,-.7,.55,.3,-1.3,.575,.3,-.5,.6,.3,.2,.63,.3,-.3,.265,.29,.1,.3,.29,-.5,.33,.29,-.9,.355,.29,.3,.38,.29,-1.3,.405,.29,-.6,.43,.29,.2,.46,.29,-.9,.485,.29,-1.5,.51,.29,-.4,.535,.29,-.7,.565,.29,-.9,.59,.29,-.4,.62,.29,-.2,.655,.29,-.5,.665,.29,-1,.22,.28,.1,.31,.28,.4,.34,.28,-1.7,.365,.28,-.9,.39,.28,-.7,.415,.28,-1.1,.44,.28,.1,.47,.28,.2,.495,.28,-2,.525,.28,-.4,.56,.28,-.3,.575,.28,-2.4,.6,.28,-1,.63,.28,-1.1,.65,.28,-.5,.29,.27,-.7,.32,.27,-.5,.35,.27,-.7,.375,.27,-1.7,.4,.27,-.6,.425,.27,-.9,.45,.27,-.3,.48,.27,-1,.505,.27,-.7,.53,.27,.2,.58,.27,.1,.6,.27,-1.3,.64,.27,.1,.665,.27,-.8,.3,.26,-.9,.335,.26,-.8,.36,.26,-.4,.41,.26,.2,.44,.26,-.8,.465,.26,.1,.49,.26,-.7,.57,.26,-.8,.6,.26,.3,.627,.26,-.5,
.295,.435,.1,.325,.434,-.2,.352,.436,.3,.395,.435,.2,.415,.433,.1,.465,.435,.3,.505,.436,.1,.545,.433,.2,.308,.415,.2,.345,.414,.1,.367,.416,.3,.418,.415,.1,.462,.414,.2,.495,.416,.1,.528,.415,-.1,.285,.395,-.5,.32,.396,.2,.35,.394,-.3,.39,.395,.2,.415,.394,-.1,.445,.395,-.4,.475,.394,.3,.505,.396,.2,.535,.394,.1,.3,.375,-.6,.33,.376,-.2,.365,.375,.1,.395,.374,.2,.425,.376,-.5,.45,.375,.3,.475,.374,-.4,.51,.376,.2,.55,.375,.1,.285,.355,-.1,.315,.356,-.6,.34,.354,-.4,.37,.355,-.1,.395,.354,.2,.42,.356,-.7,.445,.355,.3,.47,.354,-1.1,.505,.355,-.3,.535,.356,.1,.3,.335,-.5,.33,.335,-.9,.355,.334,-.5,.38,.336,.1,.41,.335,-.8,.435,.334,-1.1,.46,.336,.1,.485,.335,-.7,.51,.334,-1,.55,.336,-.4,.315,.315,-.8,.34,.314,-1.1,.37,.316,-.4,.395,.315,-.7,.42,.314,-.9,.45,.315,-1,.475,.316,-.4,.505,.315,-.7,.53,.314,-1.1,.295,.295,-.6,.325,.294,-.8,.35,.296,-1,.375,.295,-.5,.4,.294,-1.2,.44,.295,-.6,.47,.294,-1.1,.495,.296,-.7,.52,.295,-.9,
.778,.235,.6,.72,.235,-1.4,.177,.197,-.5,.239,.209,-1.3,.327,.211,-.2,.383,.196,-.9,.283,.194,-.6,.286,.184,-.6,.319,.171,-1.5,.373,.161,.1,.41,.167,-.8,.42,.169,-.2,.434,.152,-.3,.442,.16,-.2,.487,.157,-1,.494,.146,-.3,.555,.162,-.8,.562,.147,-1,.618,.158,-.8,.631,.17,-.8,.644,.156,-.7,.654,.171,-1.4,.755,.152,-1.6,.762,.154,-.8,.798,.165,-.1,.778,.13,-.8,.8,.132,-.6,.817,.129,-.4,.69,.127,-2,.726,.106,-.3,.196,.104,-.6,.27,.108,-2.1,.402,.11,-1.1,.399,.09,-.4,.463,.117,-.5,.6,.104,-.9,.589,.097,-1.4,.529,.074,-1,.618,.054,-.9,.694,.073,-1,.431,.048,.5,.851,.094,-.9,.857,.084,-.3,.816,.067,-1.2,.854,.047,-1,.811,.038,-1.1,.942,.066,-1.3,.713,.44,.3,.72,.319,0,.674,.345,-1.2,.662,.331,-.5,.681,.327,-.4,.699,.296,-.5,.678,.306,-1,.664,.299,-.2,.681,.269,-.2,.665,.253,-1.7,.691,.25,-.4,.693,.239,-1.5,.664,.239,-.8,.668,.227,-.8,.68,.215,-1,.691,.209,-.5,.722,.198,-.4,.722,.181,-.7,.695,.197,-2,.681,.188,0,.671,.188,-.1,.64,.188,-1.4,.609,.191,-.3,.636,.209,-.5,.644,.23,-.5,.608,.218,-3,.425,.183,-.4,.454,.181,-.9,.475,.185,-2,.448,.196,-2.4,.474,.199,-.3,.51,.198,-.5,.546,.18,-1.9,.568,.179,-1.1,.565,.188,-3,.549,.203,-1.6,.567,.216,.2,.59,.215,-.6,.41,.214,-1.6,.425,.206,-.5,.444,.212,-.6,.455,.219,-.6,.479,.22,-.7,.509,.22,-.7,.54,.21,-.6,.544,.224,-.2,.557,.237,.1,.583,.239,.2,.597,.226,-.1,.507,.247,.2,.522,.237,.1,.537,.248,-1.8,.475,.239,-1.8,.483,.248,-.7,.43,.242,-1.1,.404,.235,-.5,.425,.228,-.6,.378,.251,-1.2,.383,.244,-.7,.354,.248,-.8,.336,.253,-.2,.316,.236,-.1,.274,.239,.2,.277,.23,-.1,.268,.224,-.9,.292,.21,-1.3,.307,.22,-1.2,.208,.237,-.6,.217,.254,-.4,.316,.248,-.8];
const ptsE=[.402,.491,-.8,.446,.485,.2,.453,.47,-.8,.316,.416,-1,.397,.401,-.6,.372,.386,-.9,.556,.404,-.1,.608,.392,-.1,.628,.4,-.5,.632,.397,-.4,.447,.381,-2.8,.443,.37,-.3,.497,.361,.6,.538,.364,.4,.639,.363,-1.3,.317,.37,-.8,.586,.344,-.4,.535,.333,-.7,.698,.342,.2,.692,.329,-.5,.606,.308,-.5,.654,.29,.2,.745,.266,-.8,.561,.275,.4,.586,.269,-.1,.608,.26,-.4,.611,.243,-2.1,.58,.246,-1.3,.553,.238,-1.1,.586,.237,-.9,.573,.226,-.6,.568,.214,-.9,.587,.214,-1.7,.62,.215,-1.5,.609,.194,-1.9,.68,.225,-.7,.712,.219,-1.2,.721,.188,-1.1,.765,.176,-1.1,.762,.165,-.6,.819,.183,-1,.67,.175,-3,.679,.141,-1.9,.729,.143,-1.9,.718,.126,-1.6,.725,.113,-.7,.804,.101,-.9,.75,.068,-2.4,.797,.058,-1.3,.857,.054,-.9,.78,.027,.5,.865,.014,-1.2,.587,.167,.3,.589,.174,-.4,.596,.155,-.1,.584,.138,.3,.596,.138,.2,.594,.124,-1.5,.565,.122,-1.2,.542,.1,-.8,.631,.086,-.5,.651,.095,.1,.606,.05,-.8,.509,.066,.7,.543,.032,-.6,.586,.01,.1,.417,.086,-.5,.395,.075,-1.9,.36,.113,-1.4,.428,.036,-1,.45,.148,-.8,.497,.162,-.7,.518,.153,-1.2,.538,.147,-1.1,.537,.161,-2.1,.531,.167,-1.4,.374,.157,-.4,.391,.162,.1,.289,.156,-.5,.243,.162,-.3,.187,.164,-1.1,.194,.19,-1.2,.152,.224,-1.3,.26,.187,-1.1,.241,.194,-.7,.289,.196,-1.2,.321,.182,-.6,.331,.182,-.3,.335,.199,-.6,.387,.192,.2,.396,.174,-.8,.411,.176,-1,.423,.176,.1,.461,.176,-1.4,.482,.192,.1,.453,.187,-1.7,.519,.198,-.6,.522,.181,-1.9,.552,.194,-.4,
.241,.359,-.2,.254,.359,-1,.263,.359,-1,.304,.359,-1.2,.316,.359,.1,.43,.359,-1.8,.248,.347,-.9,.295,.347,-.7,.325,.347,-1.7,.354,.347,-1.8,.391,.347,-1.9,.438,.347,-.9,.462,.347,-2.7,.251,.336,-.3,.307,.336,-1.2,.322,.336,-1,.369,.336,-2.1,.398,.336,-1.4,.384,.336,.1,.293,.327,-3,.257,.327,-1,.307,.327,-1.3,.325,.327,-1.3,.351,.327,-.3,.369,.327,-2.5,.404,.327,-.1,.422,.327,-1.1,.451,.327,-2.4,.472,.327,-1.8,.51,.327,-1.9,.242,.314,-1.2,.272,.314,-1.6,.286,.314,-1.7,.31,.314,-1.2,.348,.314,-1,.366,.314,-1.7,.384,.314,-1.5,.398,.314,-2,.419,.314,-1.4,.44,.314,-1.9,.461,.314,-.9,.508,.314,-1.8,.54,.314,-1.8,.233,.302,-1.2,.263,.302,-1.1,.283,.302,-1.2,.295,.302,-1.1,.328,.302,.2,.351,.302,-1.5,.372,.302,-2.3,.393,.302,-2.1,.41,.302,-1.7,.434,.302,-2,.457,.302,-.9,.484,.302,-.7,.51,.302,-1.7,.552,.302,-1.7,.239,.291,-.4,.272,.291,-1.2,.319,.291,.1,.351,.291,-1.5,.387,.291,-1.1,.404,.291,-1.7,.44,.291,-2.4,.463,.291,-1.2,.487,.291,-2,.519,.291,-1.6,.195,.284,-.8,.21,.284,-1,.224,.284,-1.2,.26,.284,-1.4,.292,.284,-1.1,.31,.284,-1.3,.333,.284,-1.4,.363,.284,-1.5,.398,.284,-1.2,.416,.284,-1.7,.457,.284,-1.5,.204,.275,-1.2,.221,.275,-1.5,.257,.275,-1.8,.283,.275,-1.2,.339,.275,.1,.363,.275,-1.1,.381,.275,-1.8,.404,.275,-1.5,.427,.275,.1,.461,.275,.1,.478,.275,-1.8,.522,.275,-1.4,.245,.264,-1.4,.269,.264,-1.5,.298,.264,-1.2,.316,.264,-1.7,.342,.264,-1,.369,.264,-1.6,.404,.264,-1.3,.434,.264,-1.3,.463,.264,-1.5,.499,.264,-1.9,.54,.264,-1.9,.221,.257,.2,.236,.257,-1.4,.254,.257,-1.3,.277,.257,-1.3,.292,.257,-1.3,.322,.257,-1.5,.357,.257,-1.6,.384,.257,-1.7,.41,.257,-.8,.44,.257,-1,.487,.257,-1.4,.516,.257,-1.1,.505,.257,-1.2,.522,.257,-1,.195,.248,-.9,.204,.248,-.9,.239,.248,-1.3,.263,.248,0,.307,.248,-1.2,.333,.248,.1,.363,.248,-1.3,.387,.248,-1.7,.434,.248,-.7,.469,.248,0,.484,.248,-.4,.516,.248,-1.1,.198,.237,-.9,.218,.237,-1.2,.257,.237,-1.4,.274,.237,-.9,.298,.237,-1.3,.319,.237,-1.9,.339,.237,-.9,.372,.237,-1.5,.395,.237,-.9,.416,.237,.2,.451,.237,.1,.484,.237,-.1,.505,.237,-1.2,.189,.226,-1,.207,.226,-1.3,.218,.226,-1.1,.239,.226,-.5,.266,.226,-1.2,.286,.226,-1.2,.31,.226,-1.3,.337,.226,-1.2,.378,.226,-1.6,.413,.226,.1,.428,.226,-2.1,.449,.226,.1,.516,.226,.1,.537,.226,-1.4,.213,.215,-1.3,.239,.215,-.3,.257,.215,-.1,.28,.215,-1.7,.304,.215,-1.2,.339,.215,-1.1,.354,.215,-1.2,.387,.215,-1.7,.407,.215,.2,.451,.215,-.1,.472,.215,-1.1,.484,.215,-1.4,.499,.215,.1,.51,.215,-1.9,.254,.203,-.3,.307,.203,-1.2,.378,.203,0,.434,.203,-.1,.446,.203,.1,.463,.203,-.7,
.25,.252,-1.2,.27,.25,-1.3,.295,.245,-1.2,.32,.244,-1.4,.345,.243,-1.2,.375,.25,-1.6,.4,.25,-1.4,.42,.243,-1.3,.455,.243,-1.5,.495,.243,-1.3,.23,.23,-1.2,.25,.232,-1.3,.285,.232,-1.4,.31,.233,-1.2,.33,.232,-1.3,.355,.23,-1.4,.395,.228,-1.3,.44,.232,-1,.475,.23,-.8,.495,.23,-1.3,.3,.27,-1.3,.32,.271,-1.5,.35,.27,-1.4,.385,.27,-1.7,.415,.27,-1.6,.44,.27,-1.4,.49,.268,-1.7,.51,.27,-1.5,.3,.29,-1.3,.335,.29,-1.3,.37,.29,-1.6,.425,.29,-1.9,.475,.285,-1.7];
const ptsF=[.471,.364,-1.5,.36,.326,-1.5,.34,.315,-2.3,.278,.294,-3,.267,.282,-2,.303,.284,-1.7,.299,.275,-1.5,.427,.293,-2,.434,.284,-1.6,.347,.278,-3.2,.481,.273,0,.49,.275,-1.6,.519,.278,-1.3,.565,.277,-.9,.56,.261,-.8,.226,.26,-2.4,.24,.26,-2,.295,.26,-1.5,.326,.26,-2.9,.372,.26,-1.6,.392,.26,-3.2,.406,.26,-3,.424,.26,-2.4,.193,.251,-2.5,.233,.251,-2.3,.278,.251,-2.4,.299,.251,-2.8,.319,.251,-3.2,.34,.251,-3,.361,.251,-2.9,.382,.251,-2.7,.41,.251,-3.1,.431,.251,-2.2,.455,.251,-2.1,.469,.251,-2,.16,.242,-2,.212,.242,-3.2,.24,.242,-3.5,.271,.242,-3,.292,.242,-3.2,.313,.242,-3.4,.333,.242,-3.2,.354,.242,-3.3,.375,.242,-2.5,.396,.242,-3.3,.417,.242,-3.4,.441,.242,-2.3,.465,.242,-3,.517,.242,-1.7,.536,.242,-2.7,.483,.242,-2.5,.188,.233,-2.7,.208,.233,-3,.233,.233,-3.6,.257,.233,-3.2,.281,.233,-3.4,.302,.233,-3.3,.326,.233,-3.5,.347,.233,-3.6,.372,.233,-1.8,.392,.233,-3.2,.417,.233,-3.3,.444,.233,-2.2,.483,.233,-1.8,.566,.233,-1.7,.56,.228,-2,.181,.224,-2.8,.201,.224,-3,.226,.224,-3.3,.247,.224,-3.4,.271,.224,-3.5,.295,.224,-3.4,.316,.224,-3.3,.34,.224,-3.6,.361,.224,-3,.382,.224,-3.5,.406,.224,-3.2,.431,.224,-3.2,.486,.224,-1.8,.563,.224,-1.9,.167,.215,-2.2,.194,.215,-2.6,.215,.215,-2.9,.24,.215,-3.2,.264,.215,-3.1,.285,.215,-3.5,.309,.215,-3,.333,.215,-3.3,.351,.215,-1.3,.372,.215,-3.5,.396,.215,-3.2,.424,.215,-2.8,.444,.215,-2.2,.528,.215,-1.4,.181,.206,-2.5,.205,.206,-3,.229,.206,-2.9,.253,.206,-3.1,.278,.206,-2.6,.302,.206,-2.9,.326,.206,-2.6,.347,.206,-3,.368,.206,-3.6,.389,.206,-3.1,.413,.206,-3.2,.448,.206,-1.4,.51,.206,-2.6,.153,.197,-2.6,.17,.197,-2.6,.194,.197,-2.4,.219,.197,-2.7,.247,.197,-2.8,.271,.197,-2.5,.295,.197,-2.5,.319,.197,-2.8,.34,.197,-2.5,.361,.197,-3.3,.389,.197,-2.2,.417,.197,-2.9,.441,.197,-2.5,.476,.197,-3,.503,.197,-2,.521,.197,-2.1,.749,.197,-1,.163,.188,-2.7,.181,.188,-2.7,.208,.188,-3.1,.236,.188,-2.3,.26,.188,-1.8,.281,.188,-2.6,.313,.188,-2.5,.337,.188,-2.2,.358,.188,-2.4,.399,.188,-2.5,.431,.188,-2.7,.458,.188,-1.5,.493,.188,-2.4,.507,.188,-2.5,.111,.179,-2.1,.181,.179,-2.7,.212,.179,-2.4,.233,.179,-2.3,.257,.179,-2.2,.285,.179,-2.6,.316,.179,-2.2,.333,.179,-2.5,.368,.179,-2.1,.389,.179,-3.2,.424,.179,-2.4,.465,.179,-1.5,.486,.179,-3,.528,.179,-2.8,.535,.176,-2.8,.726,.179,-1.1,.156,.17,-.7,.198,.17,-2.3,.233,.17,-2.1,.25,.17,-2.5,.267,.17,-1.2,.299,.17,-2,.33,.17,-2.3,.372,.17,-1.9,.41,.17,-2.6,.427,.17,-1.8,.514,.17,-3,.49,.17,-1.9,.124,.161,-1.5,.135,.161,-1.3,.17,.161,-2.2,.247,.161,-2.3,.302,.161,-.6,.33,.161,-2.1,.372,.161,-2,.41,.161,-2.2,.451,.161,-2,.467,.161,-1.2,.49,.161,-2.1,.517,.161,-1.4,.582,.161,-1.9,.601,.161,-2.7,.646,.161,-2.4,.17,.149,-2.2,.205,.149,-1.3,.233,.149,-2,.295,.149,-2,.351,.149,-2,.396,.149,-1.9,.424,.149,-2.2,.444,.149,-2,.469,.149,-1.2,.542,.149,-2.1,.601,.149,-3,.153,.134,-1.6,.212,.134,-1.2,.267,.134,-3,.314,.134,-3.2,.374,.134,-1.7,.389,.134,-1.8,.406,.134,-2,.451,.134,-2.5,.49,.134,-2.4,.508,.134,-1.6,.545,.134,-2.7,.66,.134,-1.7,.683,.134,-3.2,.656,.134,-.9,.215,.12,-.4,.228,.12,-1.3,.288,.12,-2.2,.33,.12,-2,.396,.12,-2.9,.427,.12,-2,.444,.12,-1.7,.469,.12,-1.5,.493,.12,-2.2,.524,.12,-1.9,.575,.12,-1.9,.628,.12,-1.1,.64,.12,-1.5,.144,.107,-1.7,.292,.107,-2.6,.351,.107,-2,.383,.107,-2.1,.427,.107,-2,.488,.107,-.5,.497,.107,-1.6,.545,.107,-.9,.181,.093,-1.3,.49,.093,-2.2,.456,.093,-1.4,.507,.093,-.8,.638,.093,-2,.731,.093,-1.9,.578,.085,-.7,.212,.076,-1.5,.302,.076,-.9,.465,.076,-3,.738,.076,-1.8,.283,.076,-2,.304,.066,-2.6,.455,.066,-1.2,.54,.066,-.7,.582,.066,-.8,.635,.066,-.5,.824,.066,-1.9,.769,.066,-.4,.41,.055,-2.8,.417,.055,-1.6,.455,.055,-1.2,.486,.055,-1.2,.521,.055,-2,.563,.055,-1.2,.615,.055,-1.1,.651,.055,-1.4,.771,.055,-.8,.863,.055,-2,.292,.055,-3,.281,.055,-2,.038,.04,-2,.054,.033,-1.8,.108,.04,-3,.154,.04,-2,.201,.044,-1.3,.233,.044,-1,.281,.044,-1.2,.316,.044,-1,.333,.044,-1,.385,.044,-.4,.434,.044,-1.1,.472,.044,-1.1,.503,.044,-1,.535,.044,-1.2,.566,.044,-1.5,.615,.044,-1.2,.698,.044,-1.3,.74,.044,-.7,.781,.044,-1,.158,.028,-2,.189,.028,-1.5,.201,.028,-1.3,.285,.028,-1,.302,.028,-.8,.333,.028,-1,.389,.028,-1.8,.403,.028,-2,.451,.028,-1.2,.486,.028,-1.4,.538,.028,-1.9,.597,.028,-1.6,.635,.028,-1.2,.674,.028,-1.7,.701,.028,-1.4,.736,.028,-1.6,.778,.028,-1.6,.83,.028,-1.2,.868,.028,-3,.906,.028,-1.2,.889,.028,-2.5,.243,.017,-1.1,.333,.017,-1.2,.375,.017,-1,.389,.017,-1.6,.431,.017,-1.7,.451,.017,-1.8,.472,.017,-1.4,.514,.017,-1.8,.542,.017,-2,.569,.017,-1.5,.594,.017,-1.6,.618,.017,-2,.656,.017,-1.3,.694,.017,-2.8,.729,.017,-1.8,.747,.017,-1.8,.778,.017,-1.7,.799,.017,-1.7,.813,.017,-1.9,.861,.017,-1.4,.906,.017,-.3,.882,.017,-2,.337,.008,-1.2,.389,.008,-1.7,.427,.008,-2,.507,.008,-2.1,.535,.008,-2,.559,.008,-1.3,.59,.008,-1.7,.615,.008,-1.8,.639,.008,-1.6,.674,.008,-2,.715,.008,-1.7,.75,.008,-1.8,.778,.008,-1.6,.802,.008,-1.8,.84,.008,-1.9,.875,.008,-1.9,.903,.008,-1.6,
.23,.237,-3.3,.265,.238,-3.5,.3,.237,-3.6,.34,.238,-3.1,.38,.237,-3.5,.41,.238,-3.2,.2,.21,-2.8,.23,.211,-3.2,.275,.21,-3.3,.32,.211,-3.4,.36,.21,-3.5,.4,.21,-3.4,.22,.192,-2.5,.265,.193,-2.6,.305,.192,-2.4,.35,.193,-2.7,.41,.192,-2.9,.44,.173,-2.2,.28,.165,-2.1,.36,.165,-2,.395,.165,-2.2,.45,.142,-2.3,.42,.142,-2,.47,.128,-2,.56,.032,-1.4,.58,.036,-1.5,.61,.034,-1.3,.65,.036,-1.4,.69,.034,-1.2,.72,.036,-1.6,.76,.034,-1.5,.8,.036,-1.4,.52,.036,-1.3,.5,.03,-1.5,.47,.036,-1.3];
const panelPoints=[ptsA,ptsB,ptsC,ptsD,ptsE,ptsF];

const triple=a=>{const o=[];for(let i=0;i+2<a.length;i+=3)o.push([a[i],a[i+1],a[i+2]]);return o};
const H=Math.sqrt(3)/2, Y6=Math.sqrt(3)/6;
const triangle=[[0,0],[.5,H],[1,0],[0,0]];
const yTicks=[0,Y6,H];
const lefts=[208,963,1719], tops=[104,955], W=735, PH=641;
const serif='"Liberation Serif"', sans='"Liberation Sans"';
const grids=[],xAxes=[],yAxes=[],series=[],graphic=[];
const gray='#e4e4e4';
const T=(text,x,y,font,opt={})=>graphic.push({type:'text',x,y,rotation:opt.rot||0,silent:true,z:50,style:{text,font,fill:opt.fill||'#1a1a1a',align:opt.align||'center',verticalAlign:opt.va||'middle'}});
for(let i=0;i<6;i++){
 const col=i%3,row=i<3?0:1,useSerif=col===0;
 grids.push({left:lefts[col],top:tops[row],width:W,height:PH});
 xAxes.push({gridIndex:i,type:'value',min:0,max:1,interval:.5,
  axisLine:{show:true,onZero:false,lineStyle:{color:'#bbb',width:2}},axisTick:{show:true,length:9,lineStyle:{color:'#999',width:2}},
  splitLine:{show:true,lineStyle:{color:gray,width:1.5}},
  axisLabel:{margin:useSerif?26:32,fontFamily:useSerif?serif:sans,fontSize:useSerif?46:44,color:'#222',hideOverlap:false,showMinLabel:true,showMaxLabel:true,formatter:v=>v===0?xTicks[0]:v===1?xTicks[2]:xTicks[1]}});
 const yBase={gridIndex:i,type:'value',min:0,max:H,
  axisLine:{show:true,onZero:false,lineStyle:{color:gray,width:1.5}},axisTick:{show:true,length:9,customValues:yTicks,lineStyle:{color:'#999',width:2}},
  splitLine:{show:true,lineStyle:{color:gray,width:1.5}}};
 yAxes.push({...yBase,position:'left',axisLabel:{show:col===0,customValues:yTicks,margin:20,fontFamily:serif,fontSize:56,color:'#222',showMinLabel:true,showMaxLabel:true,
   formatter:v=>v<.01?yTickLabels[0]:v<.5?yTickLabels[1]:yTickLabels[2]}});
 yAxes.push({...yBase,position:'right',splitLine:{show:false},axisLabel:{show:false}});
 series.push({type:'line',xAxisIndex:i,yAxisIndex:2*i,data:triangle,symbol:'none',silent:true,z:3,clip:false,lineStyle:{color:'#000',width:3}});
 series.push({type:'scatter',xAxisIndex:i,yAxisIndex:2*i,data:triple(panelPoints[i]),symbol:'triangle',symbolSize:[17,15],symbolRotate:row?180:0,z:4,
   itemStyle:{opacity:.85,borderColor:'#3a3a2a',borderWidth:1.3}});
 const lx=lefts[col]+(col===0?30:33);
 T(panelLetters[i],lx,(row?989:138),'62px '+sans,{align:'left',fill:'#111'});
 const cx=lefts[col]+W/2, base=tops[row]+PH;
 T('x',cx-19,base+118,'italic 66px '+serif);
 T('B',cx+15,base+131,'italic 44px '+serif);
}
titles.forEach((t,c)=>T(t,lefts[c]+W/2,55,'66px '+serif));
[0,850].forEach(d=>{T('y',42,442+d,'italic 66px '+serif,{rot:Math.PI/2});T('B',54,410+d,'italic 44px '+serif,{rot:Math.PI/2});});
[47,894].forEach(y=>T('log|ζ|',2507,y,'64px '+serif));
T('Stable',2626,427,'66px '+serif,{rot:-Math.PI/2});
T('Unstable',2626,1275,'66px '+serif,{rot:-Math.PI/2});
// colour bars
const cbTops=[97.6,948];
const visualMaps=cbTops.map((top,r)=>({type:'continuous',min:-4,max:1,dimension:2,seriesIndex:(r?[7,9,11]:[1,3,5]),left:2490,top,itemWidth:36,itemHeight:655,padding:0,text:['',''],textGap:0,calculable:false,hoverLink:false,inRange:{color:parula}}));
cbTops.forEach((top,r)=>{
 const g=grids.length;
 grids.push({left:2490,top,width:36,height:655,z:10});
 xAxes.push({gridIndex:g,type:'value',min:0,max:1,show:false});
 yAxes.push({gridIndex:g,type:'value',min:cbarTicks[0],max:cbarTicks[5],interval:1,position:'right',z:10,
  axisLine:{show:true,onZero:false,lineStyle:{color:'#777',width:2}},axisTick:{show:true,inside:true,length:8,lineStyle:{color:'#333',width:2}},splitLine:{show:false},
  axisLabel:{margin:14,padding:[10,0,0,0],fontFamily:sans,fontSize:36,color:'#222',showMinLabel:true,showMaxLabel:true,formatter:v=>String(v).replace('-','−')}});
 series.push({type:'scatter',xAxisIndex:g,yAxisIndex:yAxes.length-1,data:[]});
});
const chart=echarts.init(document.getElementById('c'),null,{width:2669,height:1757,renderer:'canvas'});
chart.setOption({animation:false,backgroundColor:'#fff',tooltip:{show:false},grid:grids,xAxis:xAxes,yAxis:yAxes,visualMap:visualMaps,series,graphic:{elements:graphic}});
</script></body></html>
